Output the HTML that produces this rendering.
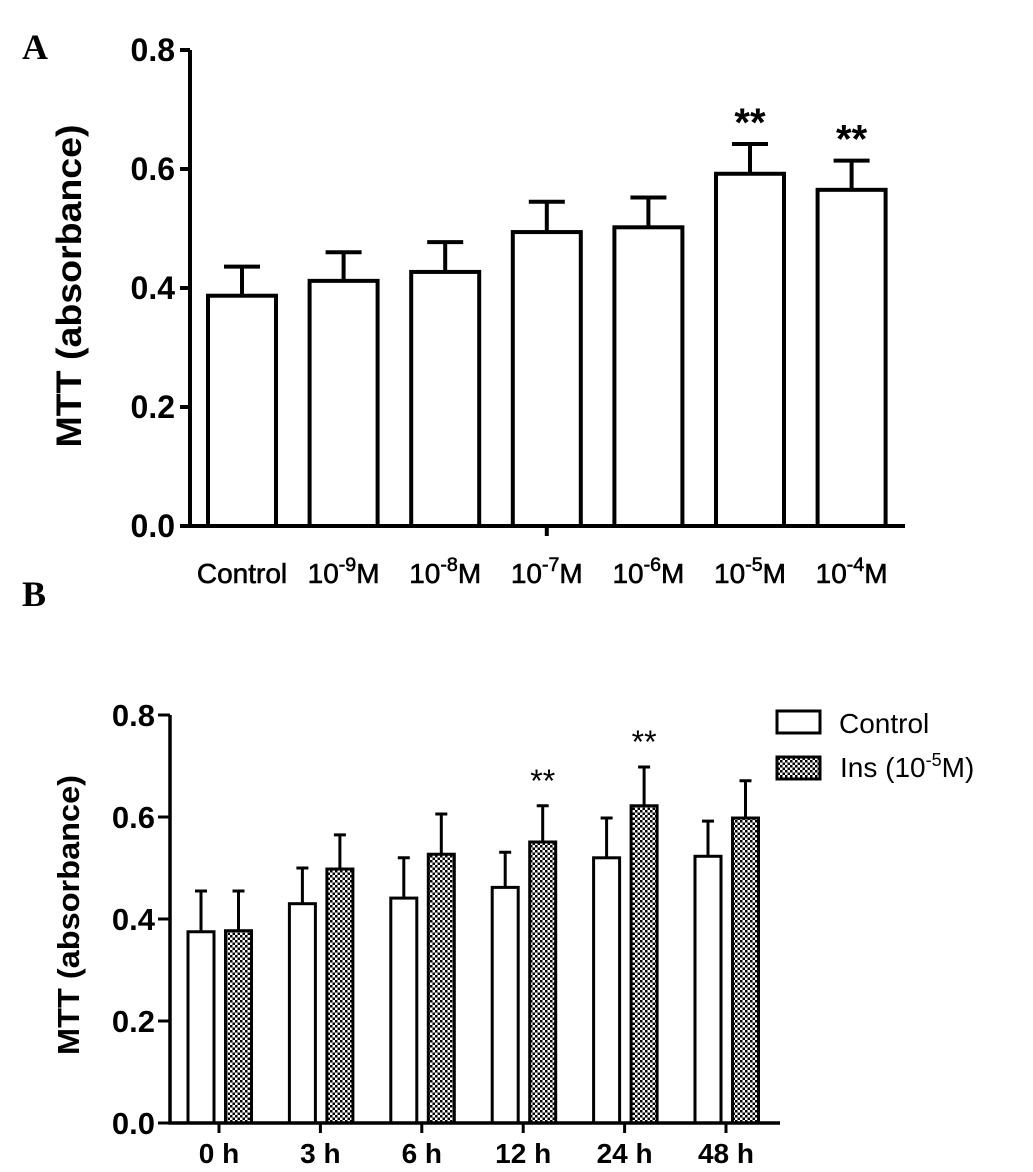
<!DOCTYPE html>
<html><head><meta charset="utf-8"><style>
html,body{margin:0;padding:0;background:#fff;}
svg{display:block;font-family:"Liberation Sans",Arial,sans-serif;}
</style></head><body>
<svg id="fig" width="1033" height="1172" viewBox="0 0 1033 1172" xmlns="http://www.w3.org/2000/svg">
<defs>
<pattern id="dots" width="5" height="5" patternUnits="userSpaceOnUse">
<rect width="5" height="5" fill="#fff"/>
<rect x="0" y="0" width="2.5" height="2.5" fill="#000"/>
<rect x="2.5" y="2.5" width="2.5" height="2.5" fill="#000"/>
</pattern>
</defs>
<g id="gA"></g>
<g id="gB"></g>
</svg>
<script>
// Panel A data
const catsA = ["Control", "10^-9M", "10^-8M", "10^-7M", "10^-6M", "10^-5M", "10^-4M"];
const meansA = [0.387, 0.412, 0.427, 0.494, 0.502, 0.592, 0.565];
const errA = [0.049, 0.048, 0.050, 0.051, 0.050, 0.050, 0.049];
const sigA = ["", "", "", "", "", "**", "**"];
const ticksA = [0.0, 0.2, 0.4, 0.6, 0.8];
// Panel B data
const catsB = ["0h", "3h", "6h", "12h", "24h", "48h"];
const ctrlB = [0.375, 0.430, 0.441, 0.462, 0.520, 0.523];
const ctrlErrB = [0.080, 0.070, 0.079, 0.069, 0.078, 0.069];
const insB = [0.377, 0.498, 0.527, 0.551, 0.622, 0.598];
const insErrB = [0.078, 0.067, 0.079, 0.071, 0.076, 0.073];
const sigB = ["", "", "", "**", "**", ""];
const ticksB = [0.0, 0.2, 0.4, 0.6, 0.8];

const NS = "http://www.w3.org/2000/svg";
function mk(parent, tag, attrs, text) {
  const e = document.createElementNS(NS, tag);
  for (const k in attrs) e.setAttribute(k, attrs[k]);
  if (text !== undefined) e.textContent = text;
  parent.appendChild(e);
  return e;
}
function supLabel(parent, x, y, lbl, size) {
  const t = mk(parent, "text", {x: x, y: y, "text-anchor": "middle", "font-size": size, "stroke": "#000", "stroke-width": 0.6});
  const m = lbl.match(/^10\^(-\d)M$/);
  if (m) {
    const a = document.createElementNS(NS, "tspan"); a.textContent = "10"; t.appendChild(a);
    const b = document.createElementNS(NS, "tspan"); b.setAttribute("dy", -12); b.setAttribute("font-size", size * 0.7); b.textContent = m[1]; t.appendChild(b);
    const c = document.createElementNS(NS, "tspan"); c.setAttribute("dy", 12); c.textContent = "M"; t.appendChild(c);
  } else t.textContent = lbl;
  return t;
}

// ---- Panel A ----
(function () {
  const g = document.getElementById("gA");
  const x0 = 190, xEnd = 905, y0 = 526, yTop = 50, vmax = 0.8;
  const yS = v => y0 - (v / vmax) * (y0 - yTop);
  const step = 101.6, first = 242, bw = 68;
  const xS = i => first + i * step;
  const pl = mk(g, "text", {x: 22, y: 59, "font-family": "Liberation Serif, serif", "font-weight": "bold", "font-size": 36}, "A");
  
  
  const yt = mk(g, "text", {x: 0, y: 0, "font-weight": "bold", "font-size": 35, "text-anchor": "middle", transform: "translate(81,286) rotate(-90)", textLength: 323, lengthAdjust: "spacingAndGlyphs"}, "MTT (absorbance)");
  
  
  ticksA.forEach(t => {
    const tk = mk(g, "line", {x1: x0 - 10, x2: x0, y1: yS(t), y2: yS(t), stroke: "#000", "stroke-width": 4});
    
    
    const tl = mk(g, "text", {x: x0 - 15, y: yS(t) + 11, "text-anchor": "end", "font-weight": "bold", "font-size": 32}, t.toFixed(1));
    
    
  });
  meansA.forEach((v, i) => {
    const cx = xS(i);
    const eb = mk(g, "path", {d: `M${cx},${yS(v)} V${yS(v + errA[i])} M${cx - 18},${yS(v + errA[i])} H${cx + 18}`, stroke: "#000", "stroke-width": 4, fill: "none"});
    
    
    const r = mk(g, "rect", {x: cx - bw / 2, y: yS(v), width: bw, height: y0 - yS(v), fill: "#fff", stroke: "#000", "stroke-width": 4});
    
    
    if (sigA[i]) {
      const s = mk(g, "text", {x: cx, y: yS(v + errA[i]) - 8, "text-anchor": "middle", "font-weight": "bold", "font-size": 40}, sigA[i]);
      
      
    }
    const xl = supLabel(g, cx, 583, catsA[i], 28);
    
    
  });
  const t7 = mk(g, "line", {x1: xS(3), x2: xS(3), y1: y0, y2: y0 + 10, stroke: "#000", "stroke-width": 4});
  
  
  const ax = mk(g, "path", {d: `M${x0},${yTop} V${y0} H${xEnd}`, stroke: "#000", "stroke-width": 4, fill: "none"});
  
  
})();

// ---- Panel B ----
(function () {
  const g = document.getElementById("gB");
  const x0 = 170, xEnd = 780, y0 = 1123, yTop = 715, vmax = 0.8;
  const yS = v => y0 - (v / vmax) * (y0 - yTop);
  const step = 101.4, first = 219, bw = 26;
  const xS = i => first + i * step;
  const pl = mk(g, "text", {x: 22, y: 606, "font-family": "Liberation Serif, serif", "font-weight": "bold", "font-size": 36}, "B");
  
  
  const yt = mk(g, "text", {x: 0, y: 0, "font-weight": "bold", "font-size": 31, "text-anchor": "middle", transform: "translate(79,915) rotate(-90)", textLength: 280, lengthAdjust: "spacingAndGlyphs"}, "MTT (absorbance)");
  
  
  ticksB.forEach(t => {
    const tk = mk(g, "line", {x1: x0 - 12, x2: x0, y1: yS(t), y2: yS(t), stroke: "#000", "stroke-width": 3});
    
    
    const tl = mk(g, "text", {x: x0 - 15, y: yS(t) + 11, "text-anchor": "end", "font-weight": "bold", "font-size": 31}, t.toFixed(1));
    
    
  });
  catsB.forEach((c, i) => {
    const cx = xS(i);
    const series = [[ctrlB[i], ctrlErrB[i], cx - 18, "#fff", "control"], [insB[i], insErrB[i], cx + 19.5, "url(#dots)", "ins"]];
    series.forEach(([v, e, bx, fill, nm]) => {
      const eb = mk(g, "path", {d: `M${bx},${yS(v)} V${yS(v + e)} M${bx - 6},${yS(v + e)} H${bx + 6}`, stroke: "#000", "stroke-width": 3, fill: "none"});
      
      
      const r = mk(g, "rect", {x: bx - bw / 2, y: yS(v), width: bw, height: y0 - yS(v), fill: fill, stroke: "#000", "stroke-width": 3});
      
      
    });
    if (sigB[i]) {
      const s = mk(g, "text", {x: cx + 19.5, y: yS(insB[i] + insErrB[i]) - 14, "text-anchor": "middle", "font-size": 32}, sigB[i]);
      
      
    }
    const tk = mk(g, "line", {x1: cx, x2: cx, y1: y0, y2: y0 + 10, stroke: "#000", "stroke-width": 3});
    
    
    const xl = mk(g, "text", {x: cx, y: 1163, "text-anchor": "middle", "font-weight": "bold", "font-size": 28}, c.replace("h", " h"));
    
    
  });
  const ax = mk(g, "path", {d: `M${x0},${yTop} V${y0} H${xEnd}`, stroke: "#000", "stroke-width": 3.5, fill: "none"});
  
  
  const lg = mk(g, "g", {});
  
  
  const l1 = mk(lg, "rect", {x: 777, y: 711, width: 43, height: 22, fill: "#fff", stroke: "#000", "stroke-width": 3});
  
  
  const t1 = mk(lg, "text", {x: 839, y: 733, "font-size": 28}, "Control");
  
  
  const l2 = mk(lg, "rect", {x: 777, y: 757, width: 43, height: 22, fill: "url(#dots)", stroke: "#000", "stroke-width": 3});
  
  
  const t2 = mk(lg, "text", {x: 840, y: 777, "font-size": 28}, "");
  
  
  const a = document.createElementNS(NS, "tspan"); a.textContent = "Ins (10"; t2.appendChild(a);
  const b = document.createElementNS(NS, "tspan"); b.setAttribute("dy", -11); b.setAttribute("font-size", 18); b.textContent = "-5"; t2.appendChild(b);
  const c2 = document.createElementNS(NS, "tspan"); c2.setAttribute("dy", 11); c2.textContent = "M)"; t2.appendChild(c2);
})();
</script>
</body></html>
